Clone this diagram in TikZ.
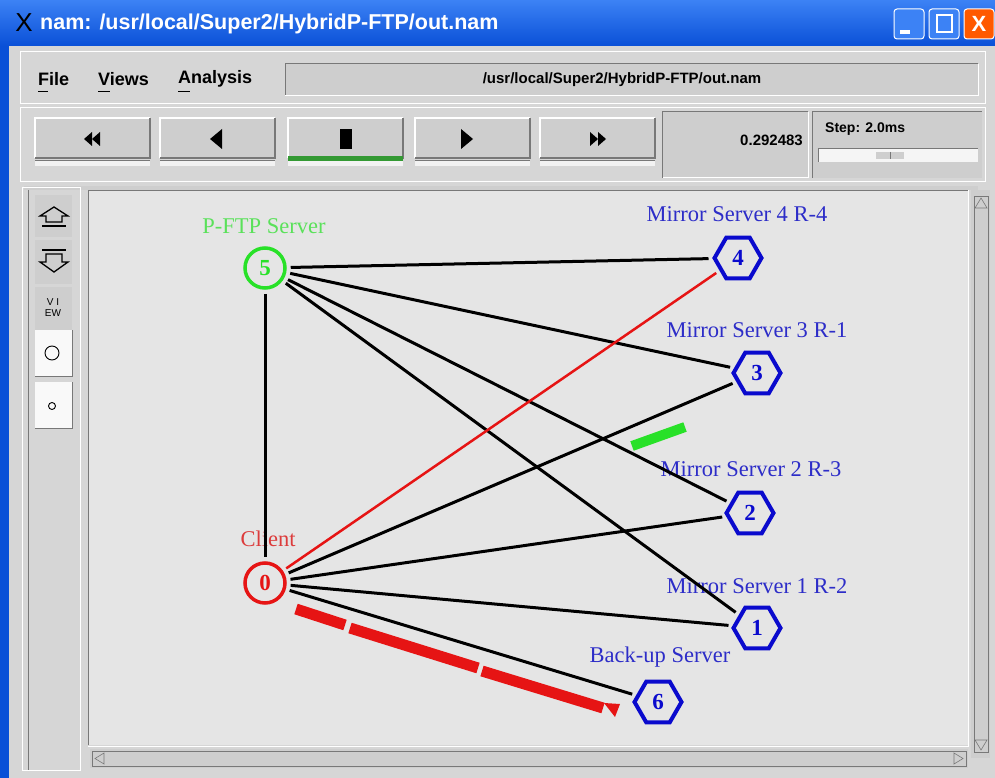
\documentclass[tikz,border=0pt]{standalone}
\usepackage{fontspec}
\setmainfont{Liberation Serif}
\newfontfamily\uifont{Liberation Sans}
\usetikzlibrary{shapes.geometric,calc}
\definecolor{xpblue}{RGB}{10,80,215}
\definecolor{xplight}{RGB}{60,130,245}
\definecolor{wingray}{RGB}{214,214,214}
\definecolor{canvasgray}{RGB}{229,229,229}
\definecolor{nodeblue}{RGB}{10,10,205}
\definecolor{labelblue}{RGB}{45,45,200}
\definecolor{nodegreen}{RGB}{40,225,40}
\definecolor{labelgreen}{RGB}{90,225,90}
\definecolor{nodered}{RGB}{230,20,20}
\definecolor{labelred}{RGB}{220,60,60}
\definecolor{btngray}{RGB}{206,206,206}
\definecolor{darkedge}{RGB}{120,120,120}
\tikzset{
  circnode/.style={circle, draw, line width=3.5pt, minimum size=40pt, inner sep=0pt, font=\fontsize{23}{23}\selectfont\bfseries},
  hexnode/.style={regular polygon, regular polygon sides=6, draw=nodeblue, line width=4pt, minimum size=47pt, inner sep=0pt, text=nodeblue, font=\fontsize{23}{23}\selectfont\bfseries},
  nlabel/.style={font=\fontsize{22.5}{22.5}\selectfont, inner sep=0pt},
  link/.style={line width=3pt, black, shorten >=4pt, shorten <=4pt},
  rlink/.style={line width=2.5pt, nodered, shorten >=4pt, shorten <=4pt},
  uitext/.style={font=\uifont\bfseries\fontsize{18}{18}\selectfont, inner sep=0pt},
  smalltext/.style={font=\uifont\bfseries\fontsize{15}{15}\selectfont, inner sep=0pt},
}
\begin{document}
\begin{tikzpicture}[x=1pt,y=-1pt]
\useasboundingbox (0,0) rectangle (995,778);
% window body
\fill[wingray] (0,0) rectangle (995,778);
\fill[xpblue] (0,0) rectangle (9,778);
% title bar
\shade[top color=xplight, bottom color=xpblue] (0,0) rectangle (995,46);
\node[anchor=west, text=white, font=\uifont\bfseries\fontsize{21.5}{21.5}\selectfont, inner sep=0pt] (title) at (40,24) {nam: /usr/local/Super2/HybridP-FTP/out.nam};
\node[font=\uifont\fontsize{26}{26}\selectfont, text=black, inner sep=0pt] (xicon) at (24,23) {X};
% window buttons
\node[draw=white, line width=1pt, fill=xplight, rounded corners=3pt, minimum width=30pt, minimum height=30pt, inner sep=0pt] (minb) at (909,24) {};
\fill[white] (900,30) rectangle (910,34);
\node[draw=white, line width=1pt, fill=xplight, rounded corners=3pt, minimum width=30pt, minimum height=30pt, inner sep=0pt] (maxb) at (944,24) {};
\draw[white, line width=1.5pt] (937,15) rectangle (952,32);
\node[draw=white, line width=1pt, fill=orange!70!red, rounded corners=3pt, minimum width=30pt, minimum height=30pt, inner sep=0pt, text=white, font=\uifont\bfseries\fontsize{22}{22}\selectfont] (closeb) at (979,24) {X};
% menu bar
\draw[white, line width=1pt] (20,52) rectangle (985,104);
\node[uitext, anchor=west] (mfile) at (38,79) {File};
\node[uitext, anchor=west] (mviews) at (98,79) {Views};
\node[uitext, anchor=west] (manal) at (178,79) {Analysis};
\draw[black, line width=0.8pt] (38,91) -- (48,91);
\draw[black, line width=0.8pt] (98,91) -- (110,91);
\draw[black, line width=0.8pt] (178,91) -- (190,91);
\fill[btngray] (285,64) rectangle (978,96);
\draw[darkedge, line width=1pt] (285,96) -- (285,64) -- (978,64);
\draw[white, line width=1pt] (285,96) -- (978,96) -- (978,64);
\node[smalltext] (pathtxt) at (622,80) {/usr/local/Super2/HybridP-FTP/out.nam};
% control row
\draw[white, line width=1pt] (20,108) rectangle (985,182);
\foreach \x in {35,160,288,415,540} {
  \fill[btngray] (\x,118) rectangle ++(115,40);
  \draw[white, line width=1.2pt] (\x,158) -- (\x,118) -- ++(115,0);
  \draw[darkedge, line width=1.2pt] (\x,158) -- ++(115,0) -- ++(0,-40);
  \fill[white!90!gray] (\x,160) rectangle ++(115,6);
  \draw[darkedge, line width=0.8pt] (\x,160) -- ++(115,0);
}
\fill[green!50!black!80] (288,156) rectangle ++(115,5);
% icons
\fill[black] (92,132) -- (84,139) -- (92,146) -- cycle;
\fill[black] (100,132) -- (92,139) -- (100,146) -- cycle;
\fill[black] (222,129) -- (210,139) -- (222,149) -- cycle;
\fill[black] (340,129) rectangle (352,149);
\fill[black] (461,129) -- (473,139) -- (461,149) -- cycle;
\fill[black] (590,132) -- (598,139) -- (590,146) -- cycle;
\fill[black] (598,132) -- (606,139) -- (598,146) -- cycle;
% time box
\fill[btngray] (662,112) rectangle (808,178);
\draw[white, line width=1pt] (662,178) -- (808,178) -- (808,112);
\draw[darkedge, line width=1pt] (662,178) -- (662,112) -- (808,112);
\node[smalltext, anchor=east] (timetxt) at (803,140) {0.292483};
\fill[btngray] (812,112) rectangle (982,178);
\draw[darkedge, line width=1pt] (812,178) -- (812,112) -- (982,112);
\node[smalltext, anchor=west, font=\uifont\bfseries\fontsize{14}{14}\selectfont] (steptxt) at (825,129) {Step: 2.0ms};
\fill[white!92!gray] (818,148) rectangle (978,162);
\draw[darkedge, line width=0.8pt] (818,162) -- (818,148) -- (978,148);
\fill[btngray] (876,152) rectangle (904,159);
\draw[darkedge, line width=0.5pt] (890,152) -- (890,159);
% time slider
\fill[btngray] (24,186) rectangle (978,190);
% side bar
\draw[white, line width=1pt] (22,188) rectangle (80,770);
\draw[darkedge, line width=0.8pt] (28,190) -- (28,770);
\foreach \y/\h in {195/42,240/44,287/43} {
  \fill[btngray] (35,\y) rectangle ++(37,\h);
}
\fill[white!95!gray] (35,330) rectangle ++(37,46);
\draw[darkedge, line width=1pt] (72,330) -- ++(0,46) -- ++(-37,0);
\fill[white!95!gray] (35,382) rectangle ++(37,46);
\draw[darkedge, line width=1pt] (72,382) -- ++(0,46) -- ++(-37,0);
% zoom in icon
\draw[black, line width=1.3pt] (40,216) -- (54,207) -- (68,216) -- (62,216) -- (62,222) -- (46,222) -- (46,216) -- cycle;
\draw[black, line width=1.3pt] (42,226) -- (66,226);
% zoom out icon
\draw[black, line width=1.3pt] (40,262) -- (54,272) -- (68,262) -- (62,262) -- (62,254) -- (46,254) -- (46,262) -- cycle;
\draw[black, line width=1.3pt] (42,250) -- (66,250);
\node[font=\uifont\fontsize{10}{11}\selectfont, align=center, inner sep=0pt] (viewtxt) at (53,308) {V I\\EW};
\draw[black, line width=0.9pt] (52,353) circle (7pt);
\draw[black, line width=0.9pt] (52,406) circle (3.5pt);
% canvas
\fill[canvasgray] (88,190) rectangle (968,745);
\draw[darkedge, line width=0.8pt] (88,745) -- (88,190) -- (968,190);
\draw[white, line width=1pt] (88,746) -- (968,746) -- (968,190);
% scrollbars
\fill[btngray] (971,190) rectangle (990,758);
\draw[darkedge, line width=0.6pt] (974,196) rectangle (988,752);
\draw[darkedge, line width=0.6pt] (975,208) -- (981,198) -- (987,208) -- cycle;
\draw[darkedge, line width=0.6pt] (975,740) -- (981,750) -- (987,740) -- cycle;
\fill[btngray] (90,749) rectangle (968,768);
\draw[darkedge, line width=0.6pt] (92,751) rectangle (966,766);
\draw[darkedge, line width=0.6pt] (104,753) -- (95,758.5) -- (104,764) -- cycle;
\draw[darkedge, line width=0.6pt] (954,753) -- (963,758.5) -- (954,764) -- cycle;
% nodes
\node[circnode, draw=nodegreen, text=nodegreen] (n5) at (265,268) {5};
\node[circnode, draw=nodered, text=nodered] (n0) at (265,583) {0};
\node[hexnode] (n4) at (738,258) {4};
\node[hexnode] (n3) at (757,373) {3};
\node[hexnode] (n2) at (750,513) {2};
\node[hexnode] (n1) at (757,628) {1};
\node[hexnode] (n6) at (658,702) {6};
% labels
\node[nlabel, text=labelgreen] (l5) at (264,226) {P-FTP Server};
\node[nlabel, text=labelred] (l0) at (268,539) {Client};
\node[nlabel, text=labelblue] (l4) at (737,214) {Mirror Server 4 R-4};
\node[nlabel, text=labelblue] (l3) at (757,330) {Mirror Server 3 R-1};
\node[nlabel, text=labelblue] (l2) at (751,469) {Mirror Server 2 R-3};
\node[nlabel, text=labelblue] (l1) at (757,586) {Mirror Server 1 R-2};
\node[nlabel, text=labelblue] (l6) at (660,657) {Back-up Server};
% links
\draw[link] (n5) -- (n4);
\draw[link] (n5) -- (n3);
\draw[link] (n5) -- (n2);
\draw[link] (n5) -- (n1);
\draw[link] (n5) -- (n0);
\draw[rlink] (n0) -- (n4);
\draw[link] (n0) -- (n3);
\draw[link] (n0) -- (n2);
\draw[link] (n0) -- (n1);
\draw[link] (n0) -- (n6);
% packets
\draw[nodegreen, line width=10pt] (632,446) -- (685,427);
\draw[nodered, line width=11pt] (296,609) -- (345,625);
\draw[nodered, line width=11pt] (350,628) -- (478,668);
\draw[nodered, line width=11pt] (482,671) -- (603,708);
\fill[nodered] (604,703) -- (620,704) -- (615,717) -- cycle;
\end{tikzpicture}
\end{document}
